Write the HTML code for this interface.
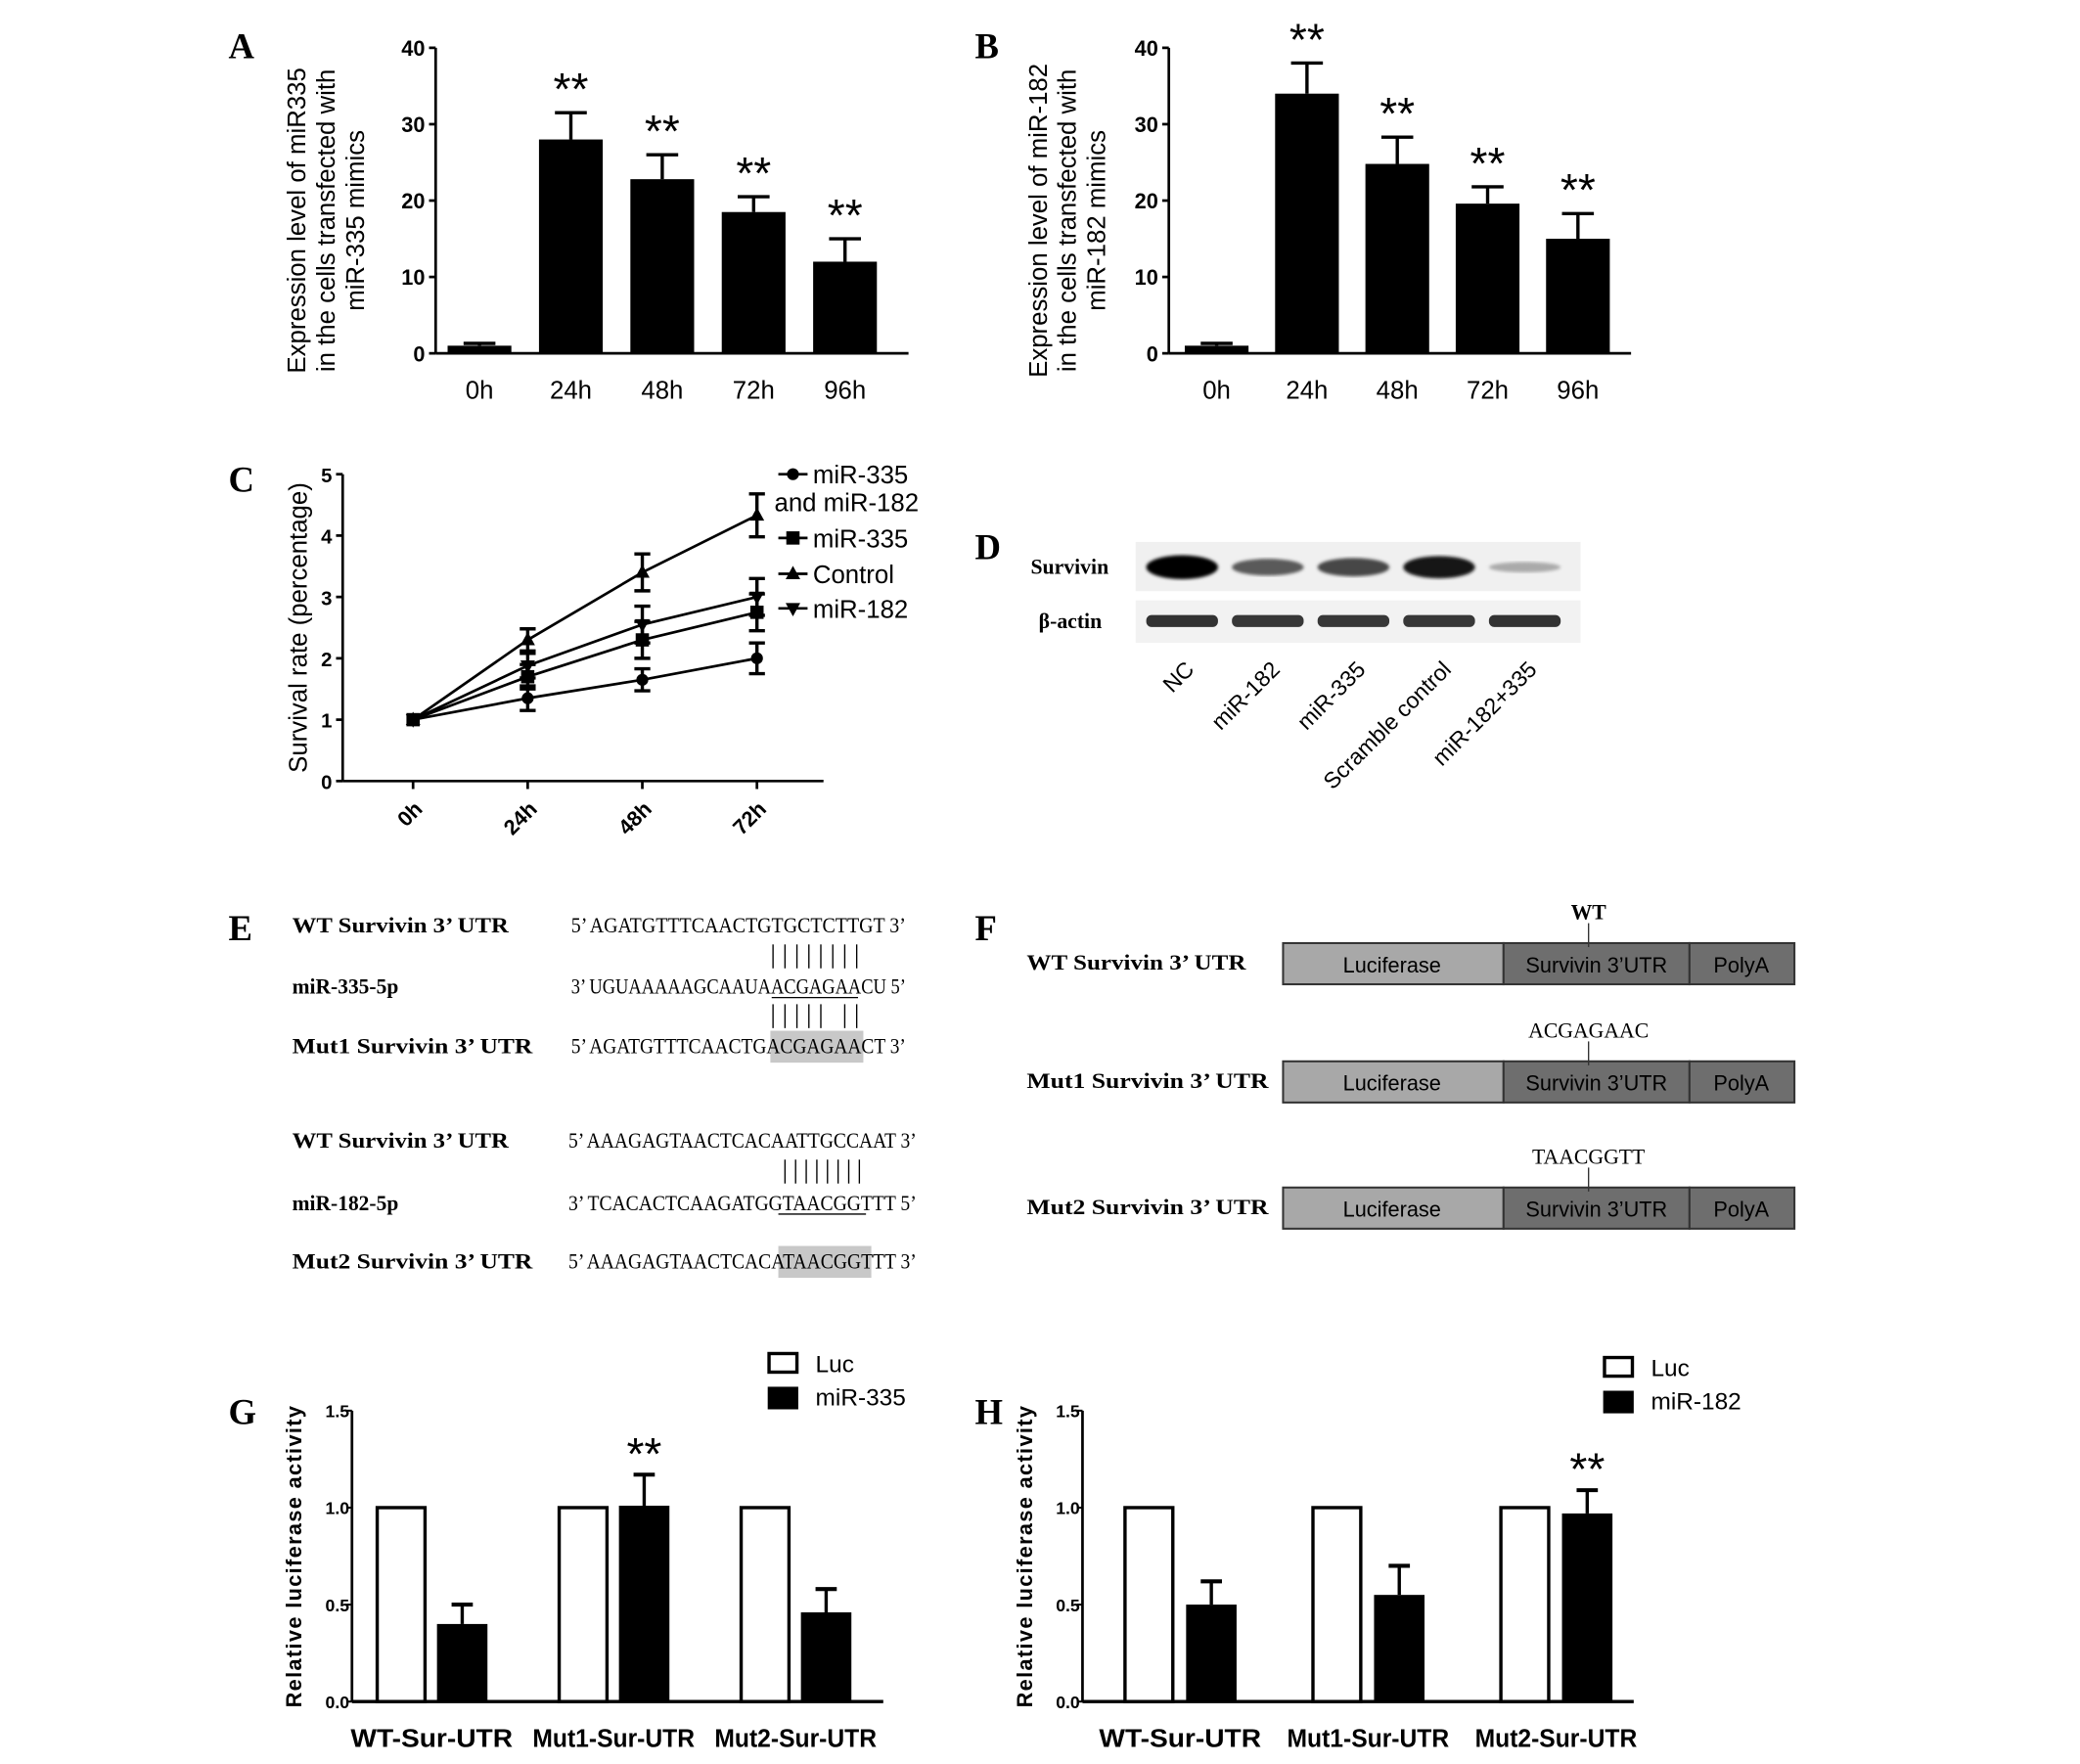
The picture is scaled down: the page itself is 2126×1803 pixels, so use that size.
<!DOCTYPE html>
<html><head><meta charset="utf-8">
<style>
html,body{margin:0;padding:0;background:#fff;}
svg{display:block;}
.ax{font-family:"Liberation Sans",Arial,sans-serif;font-weight:bold;}
.lg{font-family:"Liberation Sans",Arial,sans-serif;}
.pl{font-family:"Liberation Serif",serif;font-weight:bold;font-size:27px;}
.sq{font-family:"Liberation Serif",serif;font-size:16px;}
.sqb{font-family:"Liberation Serif",serif;font-weight:bold;font-size:16px;}
</style></head>
<body>
<svg id="fig" width="2126" height="1803" viewBox="0 0 1566 1328" preserveAspectRatio="none" xmlns="http://www.w3.org/2000/svg">
<g id="panelA"></g>
<g id="panelB"></g>
<g id="panelC"></g>
<g id="panelD">
  <text class="pl" x="734" y="421">D</text>
  <rect x="855" y="408" width="335" height="37" fill="#f0f0f0"/>
  <rect x="855" y="452" width="335" height="32" fill="#f2f2f2"/>
  <text x="776" y="432" font-family="Liberation Serif,serif" font-weight="bold" font-size="16">Survivin</text>
  <text x="782" y="473" font-family="Liberation Serif,serif" font-weight="bold" font-size="16">β-actin</text>
</g>
<g id="panelE">
  <text class="pl" x="172" y="708">E</text>
  <g class="sqb">
    <text x="220" y="702" textLength="163" lengthAdjust="spacingAndGlyphs">WT Survivin 3’ UTR</text>
    <text x="220" y="748" textLength="80" lengthAdjust="spacingAndGlyphs">miR-335-5p</text>
    <text x="220" y="793" textLength="181" lengthAdjust="spacingAndGlyphs">Mut1 Survivin 3’ UTR</text>
    <text x="220" y="864" textLength="163" lengthAdjust="spacingAndGlyphs">WT Survivin 3’ UTR</text>
    <text x="220" y="911" textLength="80" lengthAdjust="spacingAndGlyphs">miR-182-5p</text>
    <text x="220" y="955" textLength="181" lengthAdjust="spacingAndGlyphs">Mut2 Survivin 3’ UTR</text>
  </g>
  <rect x="580" y="776" width="70" height="24" fill="#c8c8c8"/>
  <rect x="586" y="938" width="70" height="24" fill="#c8c8c8"/>
  <g class="sq">
    <text x="430" y="702" textLength="252" lengthAdjust="spacingAndGlyphs">5’ AGATGTTTCAACTGTGCTCTTGT 3’</text>
    <text x="430" y="748" textLength="252" lengthAdjust="spacingAndGlyphs">3’ UGUAAAAAGCAAUAACGAGAACU 5’</text>
    <text x="430" y="793" textLength="252" lengthAdjust="spacingAndGlyphs">5’ AGATGTTTCAACTGACGAGAACT 3’</text>
    <text x="428" y="864" textLength="262" lengthAdjust="spacingAndGlyphs">5’ AAAGAGTAACTCACAATTGCCAAT 3’</text>
    <text x="428" y="911" textLength="262" lengthAdjust="spacingAndGlyphs">3’ TCACACTCAAGATGGTAACGGTTT 5’</text>
    <text x="428" y="955" textLength="262" lengthAdjust="spacingAndGlyphs">5’ AAAGAGTAACTCACATAACGGTTT 3’</text>
    <line x1="581" y1="751" x2="646" y2="751" stroke="#000" stroke-width="1"/>
    <line x1="586" y1="914" x2="652" y2="914" stroke="#000" stroke-width="1"/>
  </g>
  <g id="pairs" stroke="#000" stroke-width="1"></g>
</g>
<g id="panelF">
  <text class="pl" x="734" y="708">F</text>
</g>
<g id="panelG"></g>
<g id="panelH"></g>
</svg>
<script>
const NS='http://www.w3.org/2000/svg';
function mk(parent,tag,attrs,text){const e=document.createElementNS(NS,tag);for(const k in attrs)e.setAttribute(k,attrs[k]);if(text!==undefined)e.textContent=text;parent.appendChild(e);return e;}

// ---------- data ----------
const catsAB=['0h','24h','48h','72h','96h'];
const valsA=[1,28,22.8,18.5,12];
const errA=[0.3,3.5,3.2,2.0,3.0];
const sigA=[false,true,true,true,true];
const valsB=[1,34,24.8,19.6,15];
const errB=[0.3,4.0,3.5,2.2,3.3];
const sigB=[false,true,true,true,true];
const ticksAB=[0,10,20,30,40];

const catsC=['0h','24h','48h','72h'];
const seriesNames=['miR-335','miR-335','Control','miR-182'];
const sCombo=[1,1.35,1.65,2.0];
const eCombo=[0,0.2,0.18,0.25];
const s335=[1,1.7,2.3,2.75];
const e335=[0,0.2,0.3,0.3];
const sCtrl=[1,2.3,3.4,4.33];
const eCtrl=[0,0.18,0.3,0.35];
const s182=[1,1.88,2.55,3.0];
const e182=[0,0.2,0.3,0.3];
const ticksC=[0,1,2,3,4,5];

const blotLanes=['NC','miR-182','miR-335','Scramble control','miR-182+335'];
const survivinIntensity=[1.0,0.55,0.65,0.9,0.15];
const actinIntensity=[0.7,0.65,0.65,0.65,0.7];

const catsGH=['WT-Sur-UTR','Mut1-Sur-UTR','Mut2-Sur-UTR'];
const lucG=[1,1,1];
const mirG=[0.4,1.01,0.46];
const mirErrG=[0.1,0.16,0.12];
const sigG=[false,true,false];
const lucH=[1,1,1];
const mirH=[0.5,0.55,0.97];
const mirErrH=[0.12,0.15,0.12];
const sigH=[false,false,true];
const ticksGH=[0.0,0.5,1.0,1.5];

// ---------- Panels A/B ----------
function barAB(g,o){
  const y=v=>o.y0-(v/40)*(o.y0-o.y40);
  mk(g,'text',{class:'pl',x:o.lx,y:44,},o.label);
  mk(g,'line',{x1:o.ax,y1:o.y0,x2:o.ax,y2:o.y40,stroke:'#000','stroke-width':2,});
  mk(g,'line',{x1:o.ax,y1:o.y0,x2:o.axEnd,y2:o.y0,stroke:'#000','stroke-width':2,});
  ticksAB.forEach(t=>{
    mk(g,'line',{x1:o.ax-5,y1:y(t),x2:o.ax,y2:y(t),stroke:'#000','stroke-width':2});
    const tl=mk(g,'text',{class:'ax',x:o.ax-8,y:y(t)+6,'font-size':16,'text-anchor':'end'},t);
    
    
  });
  o.vals.forEach((v,i)=>{
    const cx=o.x0+i*o.step;
    const r=mk(g,'rect',{x:cx-24,y:y(v),width:48,height:o.y0-y(v),fill:'#000'});
    
    
    const top=y(v+o.err[i]);
    mk(g,'line',{x1:cx,y1:y(v),x2:cx,y2:top,stroke:'#000','stroke-width':2.5});
    mk(g,'line',{x1:cx-12,y1:top,x2:cx+12,y2:top,stroke:'#000','stroke-width':2.5});
    if(o.sig[i]){const s=mk(g,'text',{class:'lg',x:cx,y:top-6,'font-size':34,'text-anchor':'middle'},'**');
      }
    const xl=mk(g,'text',{class:'lg',x:cx,y:o.y0+34,'font-size':19,'text-anchor':'middle'},catsAB[i]);
    
    
  });
  const cy=(o.y0+o.y40)/2+5;
  o.title.forEach((t,k)=>{
    const tt=mk(g,'text',{class:'lg',x:0,y:0,'font-size':19,'text-anchor':'middle',transform:`translate(${o.tx+k*22},${cy+10}) rotate(-90)`},t);
    
    
  });
}
barAB(document.getElementById('panelA'),{label:'A',lx:172,ax:328,axEnd:684,y0:266,y40:36,x0:361,step:68.8,vals:valsA,err:errA,sig:sigA,tx:230,
  title:['Expression level of miR335','in the cells transfected with','miR-335 mimics']});
barAB(document.getElementById('panelB'),{label:'B',lx:734,ax:880,axEnd:1228,y0:266,y40:36,x0:916,step:68,vals:valsB,err:errB,sig:sigB,tx:788,
  title:['Expression level of miR-182','in the cells transfected with','miR-182 mimics']});

// ---------- Panel C ----------
(function(){
  const g=document.getElementById('panelC');
  const ax=258,y0=588,y5=357,x0=311,step=86.3;
  const y=v=>y0-(v/5)*(y0-y5), x=i=>x0+i*step;
  mk(g,'text',{class:'pl',x:172,y:370,},'C');
  mk(g,'line',{x1:ax,y1:y0,x2:ax,y2:y5,stroke:'#000','stroke-width':2,});
  mk(g,'line',{x1:ax,y1:y0,x2:620,y2:y0,stroke:'#000','stroke-width':2,});
  ticksC.forEach(t=>{
    mk(g,'line',{x1:ax-5,y1:y(t),x2:ax,y2:y(t),stroke:'#000','stroke-width':2});
    const tl=mk(g,'text',{class:'ax',x:ax-8,y:y(t)+6,'font-size':15,'text-anchor':'end'},t);
    
  });
  catsC.forEach((c,i)=>{
    mk(g,'line',{x1:x(i),y1:y0,x2:x(i),y2:y0+6,stroke:'#000','stroke-width':2});
    const tl=mk(g,'text',{class:'ax',x:0,y:0,'font-size':16,'text-anchor':'end',transform:`translate(${x(i)+8},${y0+22}) rotate(-45)`},c);
    
  });
  const tt=mk(g,'text',{class:'lg',x:0,y:0,'font-size':19,'text-anchor':'middle',transform:`translate(231,${(y0+y5)/2}) rotate(-90)`},'Survival rate (percentage)');
  
  function marker(gg,kind,cx,cy,s){
    if(kind==='circle')mk(gg,'circle',{cx:cx,cy:cy,r:s*0.9,fill:'#000'});
    else if(kind==='square')mk(gg,'rect',{x:cx-s,y:cy-s,width:2*s,height:2*s,fill:'#000'});
    else if(kind==='up')mk(gg,'polygon',{points:`${cx},${cy-s*1.2} ${cx-s*1.1},${cy+s*0.8} ${cx+s*1.1},${cy+s*0.8}`,fill:'#000'});
    else mk(gg,'polygon',{points:`${cx},${cy+s*1.2} ${cx-s*1.1},${cy-s*0.8} ${cx+s*1.1},${cy-s*0.8}`,fill:'#000'});
  }
  const series=[[sCombo,eCombo,'circle','combo'],[s335,e335,'square','mir335'],[sCtrl,eCtrl,'up','control'],[s182,e182,'down','mir182']];
  series.forEach(([vals,errs,kind,nm])=>{
    const sg=mk(g,'g',{});
    
    mk(sg,'polyline',{points:vals.map((v,i)=>x(i)+','+y(v)).join(' '),fill:'none',stroke:'#000','stroke-width':2});
    vals.forEach((v,i)=>{
      if(errs[i]>0){
        mk(sg,'line',{x1:x(i),y1:y(v-errs[i]),x2:x(i),y2:y(v+errs[i]),stroke:'#000','stroke-width':2.5});
        [v-errs[i],v+errs[i]].forEach(e=>mk(sg,'line',{x1:x(i)-6,y1:y(e),x2:x(i)+6,y2:y(e),stroke:'#000','stroke-width':2.5}));
      }
      marker(sg,kind,x(i),y(v),5);
    });
  });
  const lg=mk(g,'g',{});
  
  const ly=[357,405,432,458], kinds=['circle','square','up','down'];
  ly.forEach((yy,k)=>{
    mk(lg,'line',{x1:586,y1:yy,x2:608,y2:yy,stroke:'#000','stroke-width':2});
    marker(lg,kinds[k],597,yy,5);
    mk(lg,'text',{class:'lg',x:612,y:yy+7,'font-size':19},k===2?'Control':seriesNames[k]);
  });
  mk(lg,'text',{class:'lg',x:583,y:385,'font-size':19},'and miR-182');
})();

// ---------- Panel D ----------
(function(){
  const g=document.getElementById('panelD');
  const x0=890,step=64.5;
  blotLanes.forEach((l,i)=>{
    const cx=x0+i*step, si=survivinIntensity[i], ai=actinIntensity[i];
    const c=Math.round(200-200*si);
    const b=mk(g,'ellipse',{cx:cx,cy:427,rx:27,ry:3+6*si,fill:`rgb(${c},${c},${c})`,filter:'url(#blur)'});
    
    const a=mk(g,'rect',{x:cx-27,y:463,width:54,height:9,rx:4,fill:`rgb(${Math.round(120-100*ai)},${Math.round(120-100*ai)},${Math.round(120-100*ai)})`});
    
    const t=mk(g,'text',{class:'lg',x:0,y:0,'font-size':17,'text-anchor':'end',transform:`translate(${cx+10},${505}) rotate(-45)`},l);
    
  });
  const defs=mk(document.getElementById('fig'),'defs',{});
  const f=mk(defs,'filter',{id:'blur'});mk(f,'feGaussianBlur',{stdDeviation:1.2});
})();

// ---------- Panel E pairing lines ----------
(function(){
  const g=document.getElementById('pairs');
  const row1=[0,1,2,3,4,5,6,7], row2=[0,1,2,3,4,6,7], row3=[0,1,2,3,4,5,6,7];
  row1.forEach(k=>mk(g,'line',{x1:582+k*9,y1:711,x2:582+k*9,y2:729}));
  row2.forEach(k=>mk(g,'line',{x1:582+k*9,y1:756,x2:582+k*9,y2:774}));
  row3.forEach(k=>mk(g,'line',{x1:591+k*8,y1:873,x2:591+k*8,y2:891}));
})();

// ---------- Panel F ----------
(function(){
  const g=document.getElementById('panelF');
  const rows=[[710,'WT Survivin 3’ UTR','WT'],[799,'Mut1 Survivin 3’ UTR','ACGAGAAC'],[894,'Mut2 Survivin 3’ UTR','TAACGGTT']];
  rows.forEach(([yy,name,tag])=>{
    const r=mk(g,'g',{});
    
    mk(r,'text',{class:'sqb',x:773,y:yy+20,textLength:tag==='WT'?165:182,lengthAdjust:'spacingAndGlyphs'},name);
    mk(r,'rect',{x:966,y:yy,width:166,height:31,fill:'#a8a8a8',stroke:'#333','stroke-width':1.5});
    mk(r,'rect',{x:1132,y:yy,width:140,height:31,fill:'#6e6e6e',stroke:'#333','stroke-width':1.5});
    mk(r,'rect',{x:1272,y:yy,width:79,height:31,fill:'#6e6e6e',stroke:'#333','stroke-width':1.5});
    mk(r,'text',{class:'lg',x:1048,y:yy+22,'font-size':16,'text-anchor':'middle'},'Luciferase');
    mk(r,'text',{class:'lg',x:1202,y:yy+22,'font-size':16,'text-anchor':'middle'},'Survivin 3’UTR');
    mk(r,'text',{class:'lg',x:1311,y:yy+22,'font-size':16,'text-anchor':'middle'},'PolyA');
    mk(r,'line',{x1:1196,y1:yy-15,x2:1196,y2:yy+3,stroke:'#333','stroke-width':1});
    mk(r,'text',{class:tag==='WT'?'sqb':'sq',x:1196,y:yy-18,'text-anchor':'middle','font-size':15},tag);
  });
})();

// ---------- Panels G/H ----------
function barGH(g,o){
  const y=v=>o.y0-(v/1.5)*(o.y0-o.y15);
  mk(g,'text',{class:'pl',x:o.lx,y:1072,},o.label);
  mk(g,'line',{x1:o.ax,y1:o.y0,x2:o.ax,y2:o.y15,stroke:'#000','stroke-width':2,});
  mk(g,'line',{x1:o.ax,y1:o.y0,x2:o.axEnd,y2:o.y0,stroke:'#000','stroke-width':2.5,});
  ticksGH.forEach(t=>{
    mk(g,'line',{x1:o.ax-4,y1:y(t),x2:o.ax,y2:y(t),stroke:'#000','stroke-width':1.5});
    const tl=mk(g,'text',{class:'ax',x:o.ax-2,y:y(t)+5,'font-size':13,'text-anchor':'end'},t.toFixed(1));
    
  });
  catsGH.forEach((c,i)=>{
    const c1=o.x0+i*o.step, c2=c1+o.gap;
    const b1=mk(g,'rect',{x:c1-18,y:y(o.luc[i]),width:36,height:o.y0-y(o.luc[i]),fill:'#fff',stroke:'#000','stroke-width':2.5});
    
    const b2=mk(g,'rect',{x:c2-19,y:y(o.mir[i]),width:38,height:o.y0-y(o.mir[i]),fill:'#000'});
    
    const top=y(o.mir[i]+o.err[i]);
    mk(g,'line',{x1:c2,y1:y(o.mir[i]),x2:c2,y2:top,stroke:'#000','stroke-width':2.5});
    mk(g,'line',{x1:c2-8,y1:top,x2:c2+8,y2:top,stroke:'#000','stroke-width':3});
    if(o.sig[i]){const s=mk(g,'text',{class:'lg',x:c2,y:top-4,'font-size':34,'text-anchor':'middle'},'**');
      }
    const xl=mk(g,'text',{class:'ax',x:(c1+c2)/2,y:o.y0+34,'font-size':19,'text-anchor':'middle',textLength:122,lengthAdjust:'spacingAndGlyphs'},c);
    
  });
  const tt=mk(g,'text',{class:'ax',x:0,y:0,'font-size':16,'text-anchor':'middle','letter-spacing':1,transform:`translate(${o.ax-38},${(o.y0+o.y15)/2}) rotate(-90)`},'Relative luciferase activity');
  
  const lg=mk(g,'g',{});
  
  mk(lg,'rect',{x:o.lgx,y:o.lgy-8,width:21,height:14,fill:'#fff',stroke:'#000','stroke-width':2.5});
  mk(lg,'text',{class:'lg',x:o.lgx+35,y:o.lgy+6,'font-size':18},'Luc');
  mk(lg,'rect',{x:o.lgx-1,y:o.lgy+17,width:23,height:17,fill:'#000'});
  mk(lg,'text',{class:'lg',x:o.lgx+35,y:o.lgy+31,'font-size':18},o.mirName);
}
barGH(document.getElementById('panelG'),{label:'G',lx:172,ax:265,axEnd:665,y0:1281,y15:1062,x0:302,step:137,gap:46,luc:lucG,mir:mirG,err:mirErrG,sig:sigG,lgx:579,lgy:1027,mirName:'miR-335'});
barGH(document.getElementById('panelH'),{label:'H',lx:734,ax:815,axEnd:1230,y0:1281,y15:1062,x0:865,step:141.5,gap:47,luc:lucH,mir:mirH,err:mirErrH,sig:sigH,lgx:1208,lgy:1030,mirName:'miR-182'});
</script>
</body></html>
